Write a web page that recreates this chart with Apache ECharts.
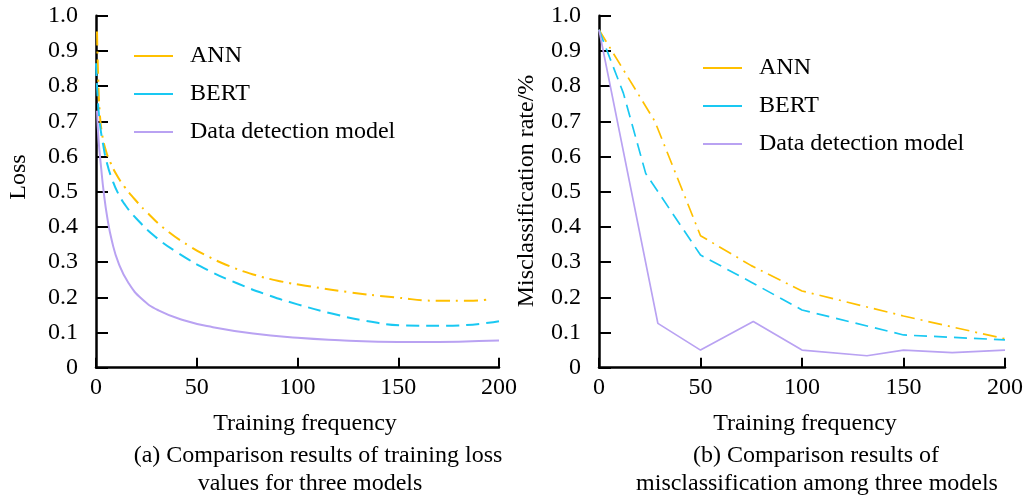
<!DOCTYPE html>
<html>
<head>
<meta charset="utf-8">
<script src="https://cdn.jsdelivr.net/npm/echarts@6/dist/echarts.min.js"></script>
<style>html,body{margin:0;padding:0;background:#fff;}#c{width:1030px;height:499px;}</style>
</head>
<body>
<div id="c"></div>
<script>
// ---- data ----
var seriesNames = ['ANN', 'BERT', 'Data detection model'];
var xTicks = [0, 50, 100, 150, 200];
var yTicks = [0, 0.1, 0.2, 0.3, 0.4, 0.5, 0.6, 0.7, 0.8, 0.9, 1.0];

// (a) training loss [training frequency, loss]
var lossANN = [[0.5,0.955],[1,0.84],[1.8,0.73],[3,0.665],[5,0.615],[7,0.585],[10,0.55],[14,0.515],[19,0.48],[25,0.443],[34,0.395],[46,0.347],[56,0.315],[67,0.287],[78,0.265],[92,0.245],[104,0.233],[125,0.215],[148,0.2],[171,0.19],[185,0.19],[196,0.195]];
var lossBERT = [[0,0.865],[0.7,0.78],[1.8,0.70],[3.5,0.635],[5.5,0.58],[8,0.535],[11,0.495],[15,0.458],[20,0.424],[29,0.374],[41,0.325],[56,0.276],[70,0.24],[85,0.207],[100,0.18],[117,0.154],[134,0.133],[154,0.12],[174,0.119],[200,0.132]];
var lossDDM = [[0.5,0.73],[1.3,0.645],[2.6,0.565],[3.8,0.5],[5.5,0.43],[7.9,0.36],[11.2,0.297],[16.2,0.24],[22.8,0.195],[31,0.163],[44,0.134],[58,0.115],[78,0.097],[100,0.085],[121,0.078],[140,0.074],[160,0.073],[180,0.074],[200,0.077]];

// (b) misclassification rate [training frequency, rate]
var misANN = [[0,0.96],[27.5,0.70],[50,0.375],[75,0.29],[100,0.218],[150,0.147],[200,0.082]];
var misBERT = [[0,0.96],[12,0.78],[23,0.552],[50,0.32],[75,0.243],[100,0.164],[150,0.093],[200,0.079]];
var misDDM = [[0,0.96],[29,0.126],[50,0.05],[76,0.131],[100,0.05],[132,0.034],[150,0.05],[174,0.043],[200,0.05]];

var FONT = 'Liberation Serif';
var colors = ['#FFC000', '#19C8F2', '#B9A2F2'];

function xAxisCfg(gi) {
  return {
    type: 'value', gridIndex: gi, min: 0, max: 200, interval: 50,
    axisLine: { show: true, lineStyle: { color: '#000', width: 2.5 } },
    axisTick: { show: true, inside: true, length: 10, lineStyle: { color: '#000', width: 2 } },
    axisLabel: { color: '#000', fontFamily: FONT, fontSize: 24, margin: 8 },
    splitLine: { show: false }
  };
}
function yAxisCfg(gi) {
  return {
    type: 'value', gridIndex: gi, min: 0, max: 1, interval: 0.1,
    axisLine: { show: true, lineStyle: { color: '#000', width: 2.5 } },
    axisTick: { show: true, inside: true, length: 12, lineStyle: { color: '#000', width: 2 } },
    axisLabel: { color: '#000', fontFamily: FONT, fontSize: 24, margin: 18,
      formatter: function (v) { return v === 0 ? '0' : v.toFixed(1); } },
    splitLine: { show: false }
  };
}
function legendCfg(left, top) {
  return {
    left: left, top: top, orient: 'vertical', itemWidth: 39, itemHeight: 2, itemGap: 14,
    icon: 'rect',
    data: seriesNames,
    textStyle: { color: '#000', fontFamily: FONT, fontSize: 24, lineHeight: 24, padding: [0, 0, 0, 12] }
  };
}
var dashANN = [14, 6, 2, 6];
var dashBERT = [13, 7];

var lossSets = [lossANN, lossBERT, lossDDM];
var misSets = [misANN, misBERT, misDDM];
var dashes = [dashANN, dashBERT, 'solid'];

var series = [];
lossSets.forEach(function (d, i) {
  series.push({ name: seriesNames[i], type: 'line', xAxisIndex: 0, yAxisIndex: 0, data: d,
    showSymbol: false, symbol: 'none', smooth: 0.5,
    lineStyle: { color: colors[i], width: 2, type: dashes[i] }, itemStyle: { color: colors[i] } });
});
misSets.forEach(function (d, i) {
  series.push({ name: seriesNames[i], type: 'line', xAxisIndex: 1, yAxisIndex: 1, data: d,
    showSymbol: false, symbol: 'none',
    lineStyle: { color: colors[i], width: 1.7, type: dashes[i] }, itemStyle: { color: colors[i] } });
});

function txt(x, y, s, rot) {
  return { type: 'text', x: x, y: y, rotation: rot || 0,
    style: { text: s, fill: '#000', font: '24px "' + FONT + '"', textAlign: 'center', textVerticalAlign: 'middle' } };
}

var option = {
  animation: false,
  backgroundColor: '#fff',
  grid: [
    { left: 96, right: 531, top: 15.7, bottom: 131.3 },
    { left: 599, right: 25, top: 15.7, bottom: 131.3 }
  ],
  xAxis: [xAxisCfg(0), xAxisCfg(1)],
  yAxis: [yAxisCfg(0), yAxisCfg(1)],
  legend: [legendCfg(129, 39), legendCfg(698, 51)],
  graphic: [
    txt(18.5, 177, 'Loss', Math.PI / 2),
    txt(527, 191, 'Misclassification rate/%', Math.PI / 2),
    txt(305, 424, 'Training frequency'),
    txt(318, 456, '(a) Comparison results of training loss'),
    txt(310, 484, 'values for three models'),
    txt(805, 424, 'Training frequency'),
    txt(816, 456, '(b) Comparison results of'),
    txt(817, 484, 'misclassification among three models')
  ],
  series: series
};
var chart = echarts.init(document.getElementById('c'), null, { renderer: 'canvas' });
chart.setOption(option);
</script>
</body>
</html>
